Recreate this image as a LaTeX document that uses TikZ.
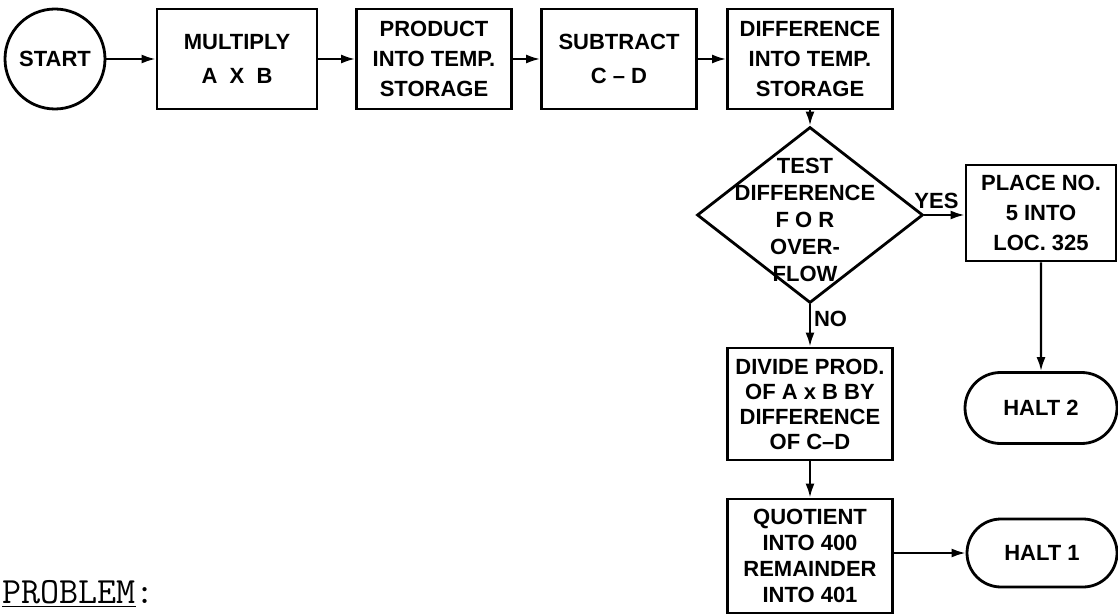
\documentclass[tikz,border=0pt]{standalone}
\usepackage{fontspec}
\setmainfont{Liberation Sans}
\usetikzlibrary{shapes.geometric,shapes.misc,arrows.meta}

\begin{document}
\begin{tikzpicture}[x=0.5pt, y=-0.5pt, font=\bfseries\fontsize{11}{15}\selectfont,
    blk/.style={draw, line width=1.4pt, align=center, inner sep=0pt},
    ends/.style={draw, line width=1.4pt, rounded rectangle, inner sep=0pt},
    decide/.style={draw, line width=1.4pt, diamond, inner sep=0pt,
                   minimum width=113pt, minimum height=88pt},
    flow/.style={line width=1.1pt, -{Latex[length=7pt, width=4.5pt]}},
    tag/.style={inner sep=1.5pt}]

\useasboundingbox (0,0) rectangle (1118,614);

% --- top row, left to right -------------------------------------------------
\node[circle, draw, line width=1.4pt, minimum size=50pt, inner sep=0pt]
    (start) at (55,59) {START};
\node[blk, minimum width=80pt, minimum height=50pt] (mult) at (237,59)
    {MULTIPLY\\[2pt]A~~X~~B};
\node[blk, minimum width=77.5pt, minimum height=50pt] (prod) at (434,59)
    {PRODUCT\\INTO TEMP.\\STORAGE};
\node[blk, minimum width=77.5pt, minimum height=50pt] (sub) at (619,59)
    {SUBTRACT\\[2pt]C -- D};
\node[blk, minimum width=82.5pt, minimum height=50pt] (diff) at (810,59)
    {DIFFERENCE\\INTO TEMP.\\STORAGE};

% --- overflow test and its two branches -------------------------------------
\node[decide] (test) at (810,215) {};
\node[tag, align=center, font=\bfseries\fontsize{11}{13.5}\selectfont] (testtxt)
    at (805,220) {TEST\\DIFFERENCE\\F~O~R\\OVER-\\FLOW};
\node[blk, minimum width=75pt, minimum height=48pt] (place) at (1041,213)
    {PLACE NO.\\5 INTO\\LOC. 325};
\node[ends, minimum width=76pt, minimum height=35.5pt] (halt2) at (1041,408)
    {HALT 2};
\node[blk, minimum width=82.5pt, minimum height=56pt,
      font=\bfseries\fontsize{11}{12.5}\selectfont] (divide) at (810,404)
    {DIVIDE PROD.\\OF A x B BY\\DIFFERENCE\\OF C--D};
\node[blk, minimum width=82.5pt, minimum height=57pt,
      font=\bfseries\fontsize{11}{13}\selectfont] (quot) at (810,556)
    {QUOTIENT\\INTO 400\\REMAINDER\\INTO 401};
\node[ends, minimum width=75pt, minimum height=34pt] (halt1) at (1042,553)
    {HALT 1};

\node[anchor=base west, inner sep=0pt, font=\ttfamily\fontsize{18.5}{18.5}\selectfont]
    (prob) at (2,603) {\underline{PROBLEM}:};

% --- connectors ---------------------------------------------------------------
\draw[flow] (start) -- (mult);
\draw[flow] (mult) -- (prod);
\draw[flow] (prod) -- (sub);
\draw[flow] (sub) -- (diff);
\draw[flow] (diff) -- (test);
\draw[flow] (test.east) -- node[tag, above=1pt, pos=0.3] (yes) {YES} (test.east -| place.west);
\draw[flow] (test.south) -- node[tag, right, pos=0.35] (no) {NO} (divide.north);
\draw[flow] (place) -- (halt2);
\draw[flow] (divide) -- (quot);
\draw[flow] (quot.east |- halt1) -- (halt1.west);
\end{tikzpicture}
\end{document}
